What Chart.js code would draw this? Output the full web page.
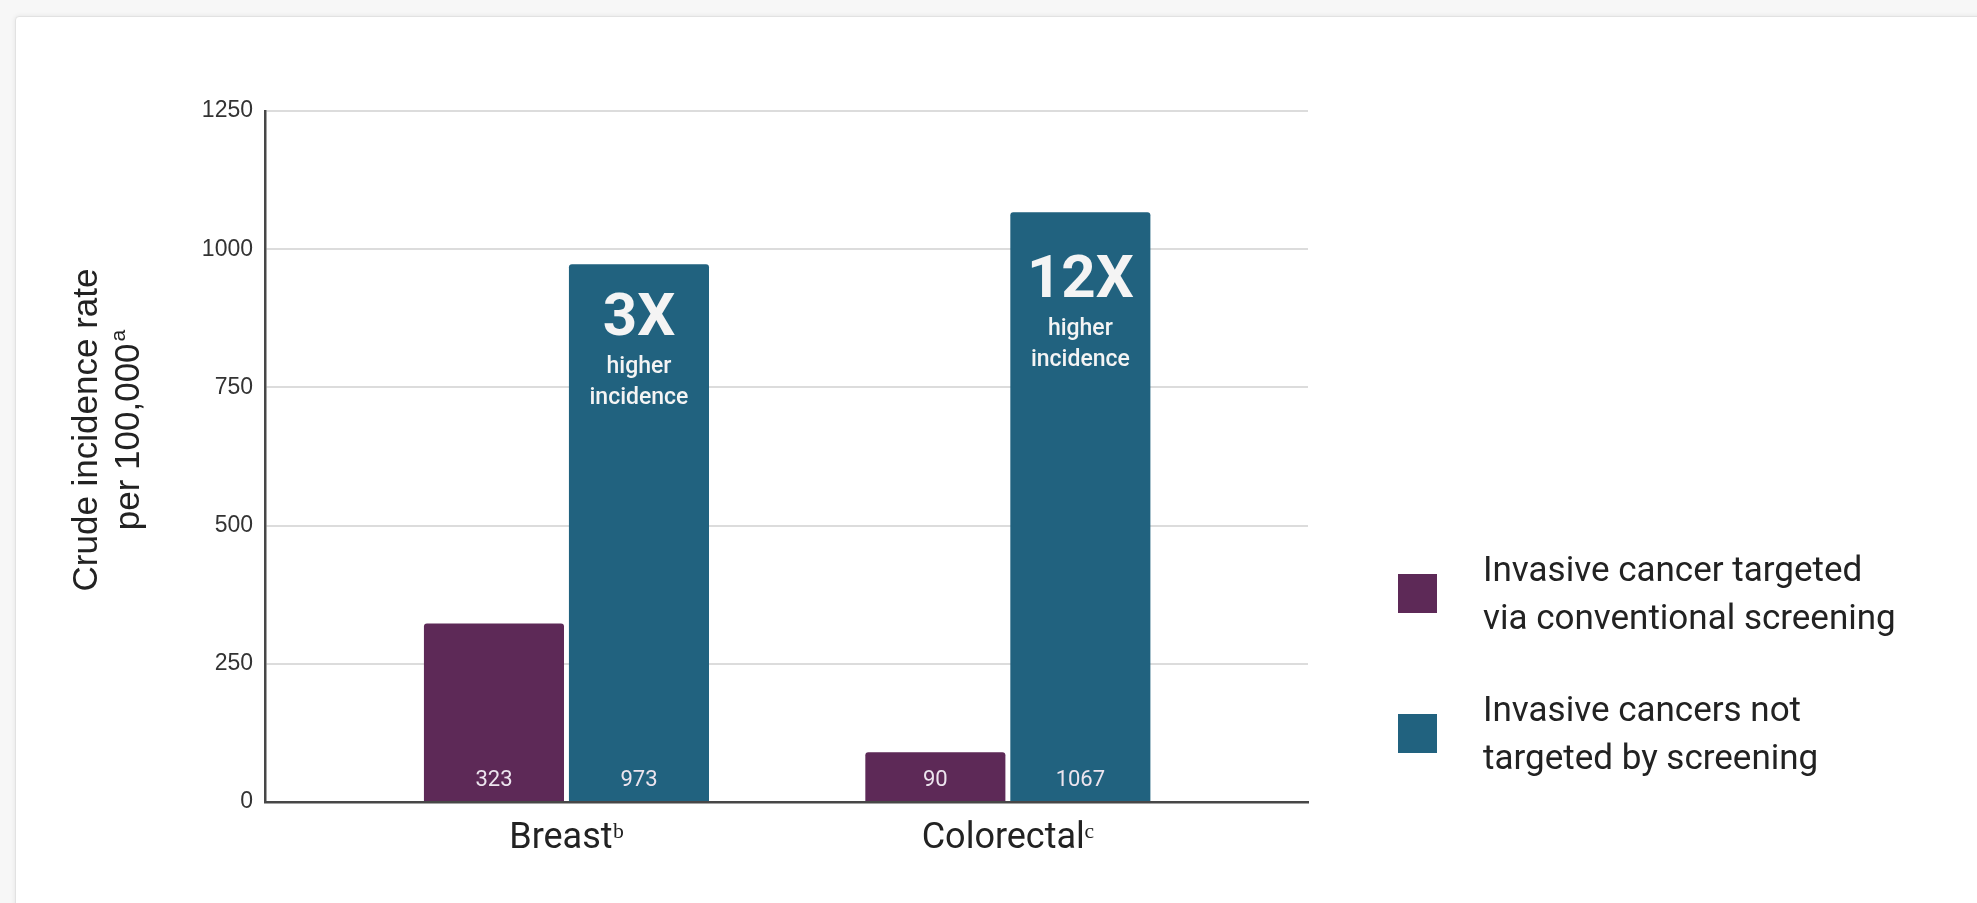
<!DOCTYPE html>
<html>
<head>
<meta charset="utf-8">
<title>Crude incidence rate</title>
<script src="https://cdn.jsdelivr.net/npm/chart.js@4.4.1/dist/chart.umd.min.js"></script>
<style>
    html, body {
        margin: 0;
        padding: 0;
        width: 1977px;
        height: 903px;
        overflow: hidden;
        background: #f7f7f7;
    }
    .card {
        position: absolute;
        left: 15px;
        top: 16px;
        width: 1990px;
        height: 920px;
        background: #fff;
        border: 1px solid #e2e2e2;
        border-radius: 4px;
        box-shadow: 0 0 5px rgba(0, 0, 0, 0.08);
    }
    #chart {
        position: absolute;
        left: 0;
        top: 0;
    }
    .legend-item {
        position: absolute;
        left: 1398px;
        font-family: Roboto, sans-serif;
        font-size: 35px;
        line-height: 48px;
        color: #222;
    }
    .legend-box {
        position: absolute;
        left: 0;
        width: 39px;
        height: 39px;
    }
    .legend-text {
        position: absolute;
        left: 85px;
        top: -28px;
        white-space: nowrap;
    }
</style>
</head>
<body>
<div class="card"></div>
<canvas id="chart" width="1977" height="903"></canvas>
<div id="legend"></div>

<script>
// Categories and values
const categories = ['Breast\u1D47', 'Colorectal\u1D9C'];
const targeted = [323, 90];
const notTargeted = [973, 1067];
const multipliers = ['3X', '12X'];
const seriesLabels = [
    ['Invasive cancer targeted', 'via conventional screening'],
    ['Invasive cancers not', 'targeted by screening']
];
const yTicks = [0, 250, 500, 750, 1000, 1250];
const yTitle = ['Crude incidence rate', 'per 100,000'];
const yTitleSup = 'a';

const colors = {
    targeted: '#5d2957',
    notTargeted: '#21627f',
    grid: '#dcdcdc',
    axis: '#474747',
    text: '#222222'
};

// Plot area edges on the page
const area = { left: 265, top: 111, right: 1308, bottom: 802 };

// x runs as a linear index axis so the two groups sit where they should
const xMin = -0.683;
const xMax = 1.68;

// small vertical nudge of each callout inside its bar
const calloutShift = [-4, 10];

const toPoints = (values) => values.map((v, i) => ({ x: i, y: v }));

// Rotated two-line axis title, with a superscript on the second line
const yTitlePlugin = {
    id: 'yTitle',
    afterDraw(chart) {
        const ctx = chart.ctx;
        const cy = 430;
        const font = '35px "Liberation Sans", Arial, sans-serif';
        const supFont = '21px "Liberation Sans", Arial, sans-serif';

        ctx.save();
        ctx.fillStyle = colors.text;
        ctx.textBaseline = 'middle';
        ctx.textAlign = 'center';
        ctx.translate(87, cy);
        ctx.rotate(-Math.PI / 2);
        ctx.font = font;
        ctx.fillText(yTitle[0], 0, 0);
        ctx.restore();

        ctx.save();
        ctx.fillStyle = colors.text;
        ctx.textBaseline = 'middle';
        ctx.textAlign = 'left';
        ctx.translate(129, cy);
        ctx.rotate(-Math.PI / 2);
        ctx.font = font;
        const w = ctx.measureText(yTitle[1]).width;
        ctx.font = supFont;
        const ws = ctx.measureText(yTitleSup).width;
        const x0 = -(w + ws + 2) / 2;
        ctx.font = font;
        ctx.fillText(yTitle[1], x0, 0);
        ctx.font = supFont;
        ctx.fillText(yTitleSup, x0 + w + 2, -10);
        ctx.restore();
    }
};

// Value labels at the foot of every bar, and the multiplier callouts
const barTextPlugin = {
    id: 'barText',
    afterDatasetsDraw(chart) {
        const ctx = chart.ctx;
        ctx.save();
        ctx.textAlign = 'center';
        ctx.textBaseline = 'middle';

        chart.data.datasets.forEach((ds, di) => {
            const meta = chart.getDatasetMeta(di);
            meta.data.forEach((bar, i) => {
                ctx.fillStyle = '#ece4ee';
                ctx.font = '22px Roboto, sans-serif';
                ctx.fillText(String(ds.data[i].y), bar.x, bar.base - 21);
            });
        });

        const meta = chart.getDatasetMeta(1);
        meta.data.forEach((bar, i) => {
            const top = bar.y + calloutShift[i];
            ctx.fillStyle = '#f4f4f4';
            ctx.font = 'bold 60px Roboto, sans-serif';
            ctx.fillText(multipliers[i], bar.x, top + 60);
            ctx.font = '500 23px Roboto, sans-serif';
            ctx.fillText('higher', bar.x, top + 107);
            ctx.fillText('incidence', bar.x, top + 138);
        });
        ctx.restore();
    }
};

const chart = new Chart(document.getElementById('chart'), {
    type: 'bar',
    data: {
        datasets: [
            {
                label: seriesLabels[0].join(' '),
                data: toPoints(targeted),
                backgroundColor: colors.targeted,
                borderRadius: { topLeft: 3, topRight: 3 },
                borderSkipped: 'start'
            },
            {
                label: seriesLabels[1].join(' '),
                data: toPoints(notTargeted),
                backgroundColor: colors.notTargeted,
                borderRadius: { topLeft: 3, topRight: 3 },
                borderSkipped: 'start'
            }
        ]
    },
    options: {
        responsive: false,
        animation: false,
        categoryPercentage: 0.657,
        barPercentage: 0.966,
        layout: {
            padding: { left: 0, top: area.top, right: 1977 - area.right, bottom: 0 }
        },
        plugins: {
            legend: { display: false },
            tooltip: { enabled: false }
        },
        scales: {
            x: {
                type: 'linear',
                offset: false,
                min: xMin,
                max: xMax,
                afterBuildTicks: (scale) => {
                    scale.ticks = categories.map((c, i) => ({ value: i }));
                },
                afterFit: (scale) => {
                    scale.height = 903 - area.bottom;
                },
                grid: { display: false, drawTicks: false },
                border: { display: true, color: colors.axis, width: 2.5 },
                ticks: {
                    padding: 15,
                    color: colors.text,
                    font: { family: 'Roboto', size: 36 },
                    callback: (v) => categories[v] ?? ''
                }
            },
            y: {
                min: 0,
                max: 1250,
                afterBuildTicks: (scale) => {
                    scale.ticks = yTicks.map(v => ({ value: v }));
                },
                afterFit: (scale) => {
                    scale.width = area.left;
                },
                grid: { color: colors.grid, lineWidth: 2, drawTicks: false },
                border: { display: true, color: colors.axis, width: 2.5 },
                ticks: {
                    padding: 12,
                    color: '#333',
                    font: { family: '"Liberation Sans", Arial, sans-serif', size: 23 },
                    callback: (v) => String(v)
                }
            }
        }
    },
    plugins: [yTitlePlugin, barTextPlugin]
});

// Legend built from the dataset colours and labels
const legendTops = [574, 714];
const legend = document.getElementById('legend');
chart.data.datasets.forEach((ds, i) => {
    const item = document.createElement('div');
    item.className = 'legend-item';
    item.style.top = legendTops[i] + 'px';
    item.innerHTML = `
        <div class="legend-box" style="background:${ds.backgroundColor}"></div>
        <div class="legend-text">${seriesLabels[i].join('<br>')}</div>
    `;
    legend.appendChild(item);
});
</script>
</body>
</html>
